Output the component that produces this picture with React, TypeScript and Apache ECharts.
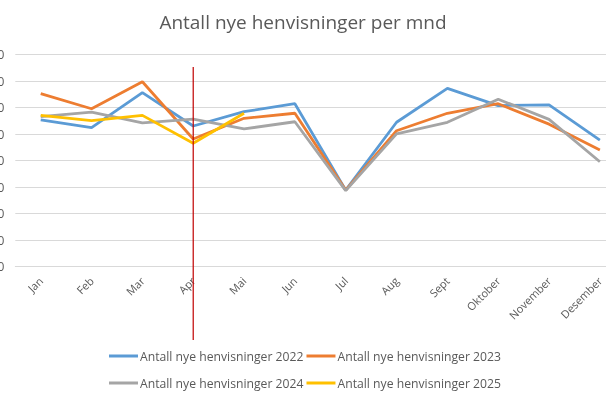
import React, { useEffect, useRef } from "react";
import * as echarts from "echarts";

const months = ["Jan", "Feb", "Mar", "Apr", "Mai", "Jun", "Jul", "Aug", "Sept", "Oktober", "November", "Desember"];
const y2022 = [55.4, 52.5, 65.7, 53.1, 58.5, 61.5, 28.9, 54.5, 67.3, 60.8, 61.1, 47.8];
const y2023 = [65.3, 59.6, 69.8, 48.2, 56.0, 57.9, 28.9, 51.3, 57.9, 61.5, 53.8, 44.0];
const y2024 = [56.6, 58.3, 54.3, 55.7, 52.0, 54.7, 28.7, 50.1, 54.5, 63.2, 55.6, 39.6];
const y2025 = [57.1, 55.1, 57.1, 46.6, 57.9];
const seriesNames = [
  "Antall nye henvisninger 2022",
  "Antall nye henvisninger 2023",
  "Antall nye henvisninger 2024",
  "Antall nye henvisninger 2025",
];
const colors = ["#5B9BD5", "#ED7D31", "#A5A5A5", "#FFC000"];
const markerMonth = "Apr";

export default function App() {
  const ref = useRef<HTMLDivElement>(null);
  useEffect(() => {
    if (!ref.current) return;
    const chart = echarts.init(ref.current, undefined, { renderer: "svg" });
    const font = "'Open Sans', sans-serif";
    const data = [y2022, y2023, y2024, y2025];
    const legendBase = {
      left: 104,
      itemWidth: 29,
      itemHeight: 3,
      itemGap: 3,
      icon: "rect",
      textStyle: { fontFamily: font, fontSize: 12.2, color: "#595959", padding: [0, 0, 0, -3] },
    };
    chart.setOption({
      animation: false,
      title: {
        text: "Antall nye henvisninger per mnd",
        left: "center",
        top: 7,
        textStyle: { fontFamily: font, fontSize: 19, fontWeight: "normal", color: "#595959" },
      },
      legend: [
        { ...legendBase, top: 345, data: seriesNames.slice(0, 2) },
        { ...legendBase, top: 372, data: seriesNames.slice(2, 4) },
      ],
      grid: { left: 15.3, top: 54.7, bottom: 137.3, width: 610, containLabel: false, outerBoundsMode: "none" },
      xAxis: {
        type: "category",
        data: months,
        boundaryGap: true,
        axisLine: { lineStyle: { color: "#D9D9D9" } },
        axisTick: { show: false },
        axisLabel: { rotate: 45, color: "#595959", fontFamily: font, fontSize: 11, margin: 12 },
      },
      yAxis: {
        type: "value",
        min: 0,
        max: 80,
        interval: 10,
        axisLine: { show: false },
        axisTick: { show: false },
        splitLine: { lineStyle: { color: "#D9D9D9" } },
        axisLabel: { color: "#595959", fontFamily: font, fontSize: 12, margin: 11 },
      },
      series: seriesNames.map((name, i) => ({
        name,
        type: "line",
        data: data[i],
        symbol: "none",
        lineStyle: { width: 2.8, color: colors[i] },
        itemStyle: { color: colors[i] },
      })),
    });
    const x = chart.convertToPixel({ xAxisIndex: 0 }, markerMonth) as number;
    chart.setOption({
      graphic: [
        {
          type: "line",
          shape: { x1: x, y1: 67, x2: x, y2: 340 },
          style: { stroke: "#C00000", lineWidth: 1.2 },
          z: 100,
        },
      ],
    });
    return () => chart.dispose();
  }, []);
  return <div ref={ref} style={{ position: "fixed", left: 0, top: 0, width: 606, height: 404 }} />;
}
